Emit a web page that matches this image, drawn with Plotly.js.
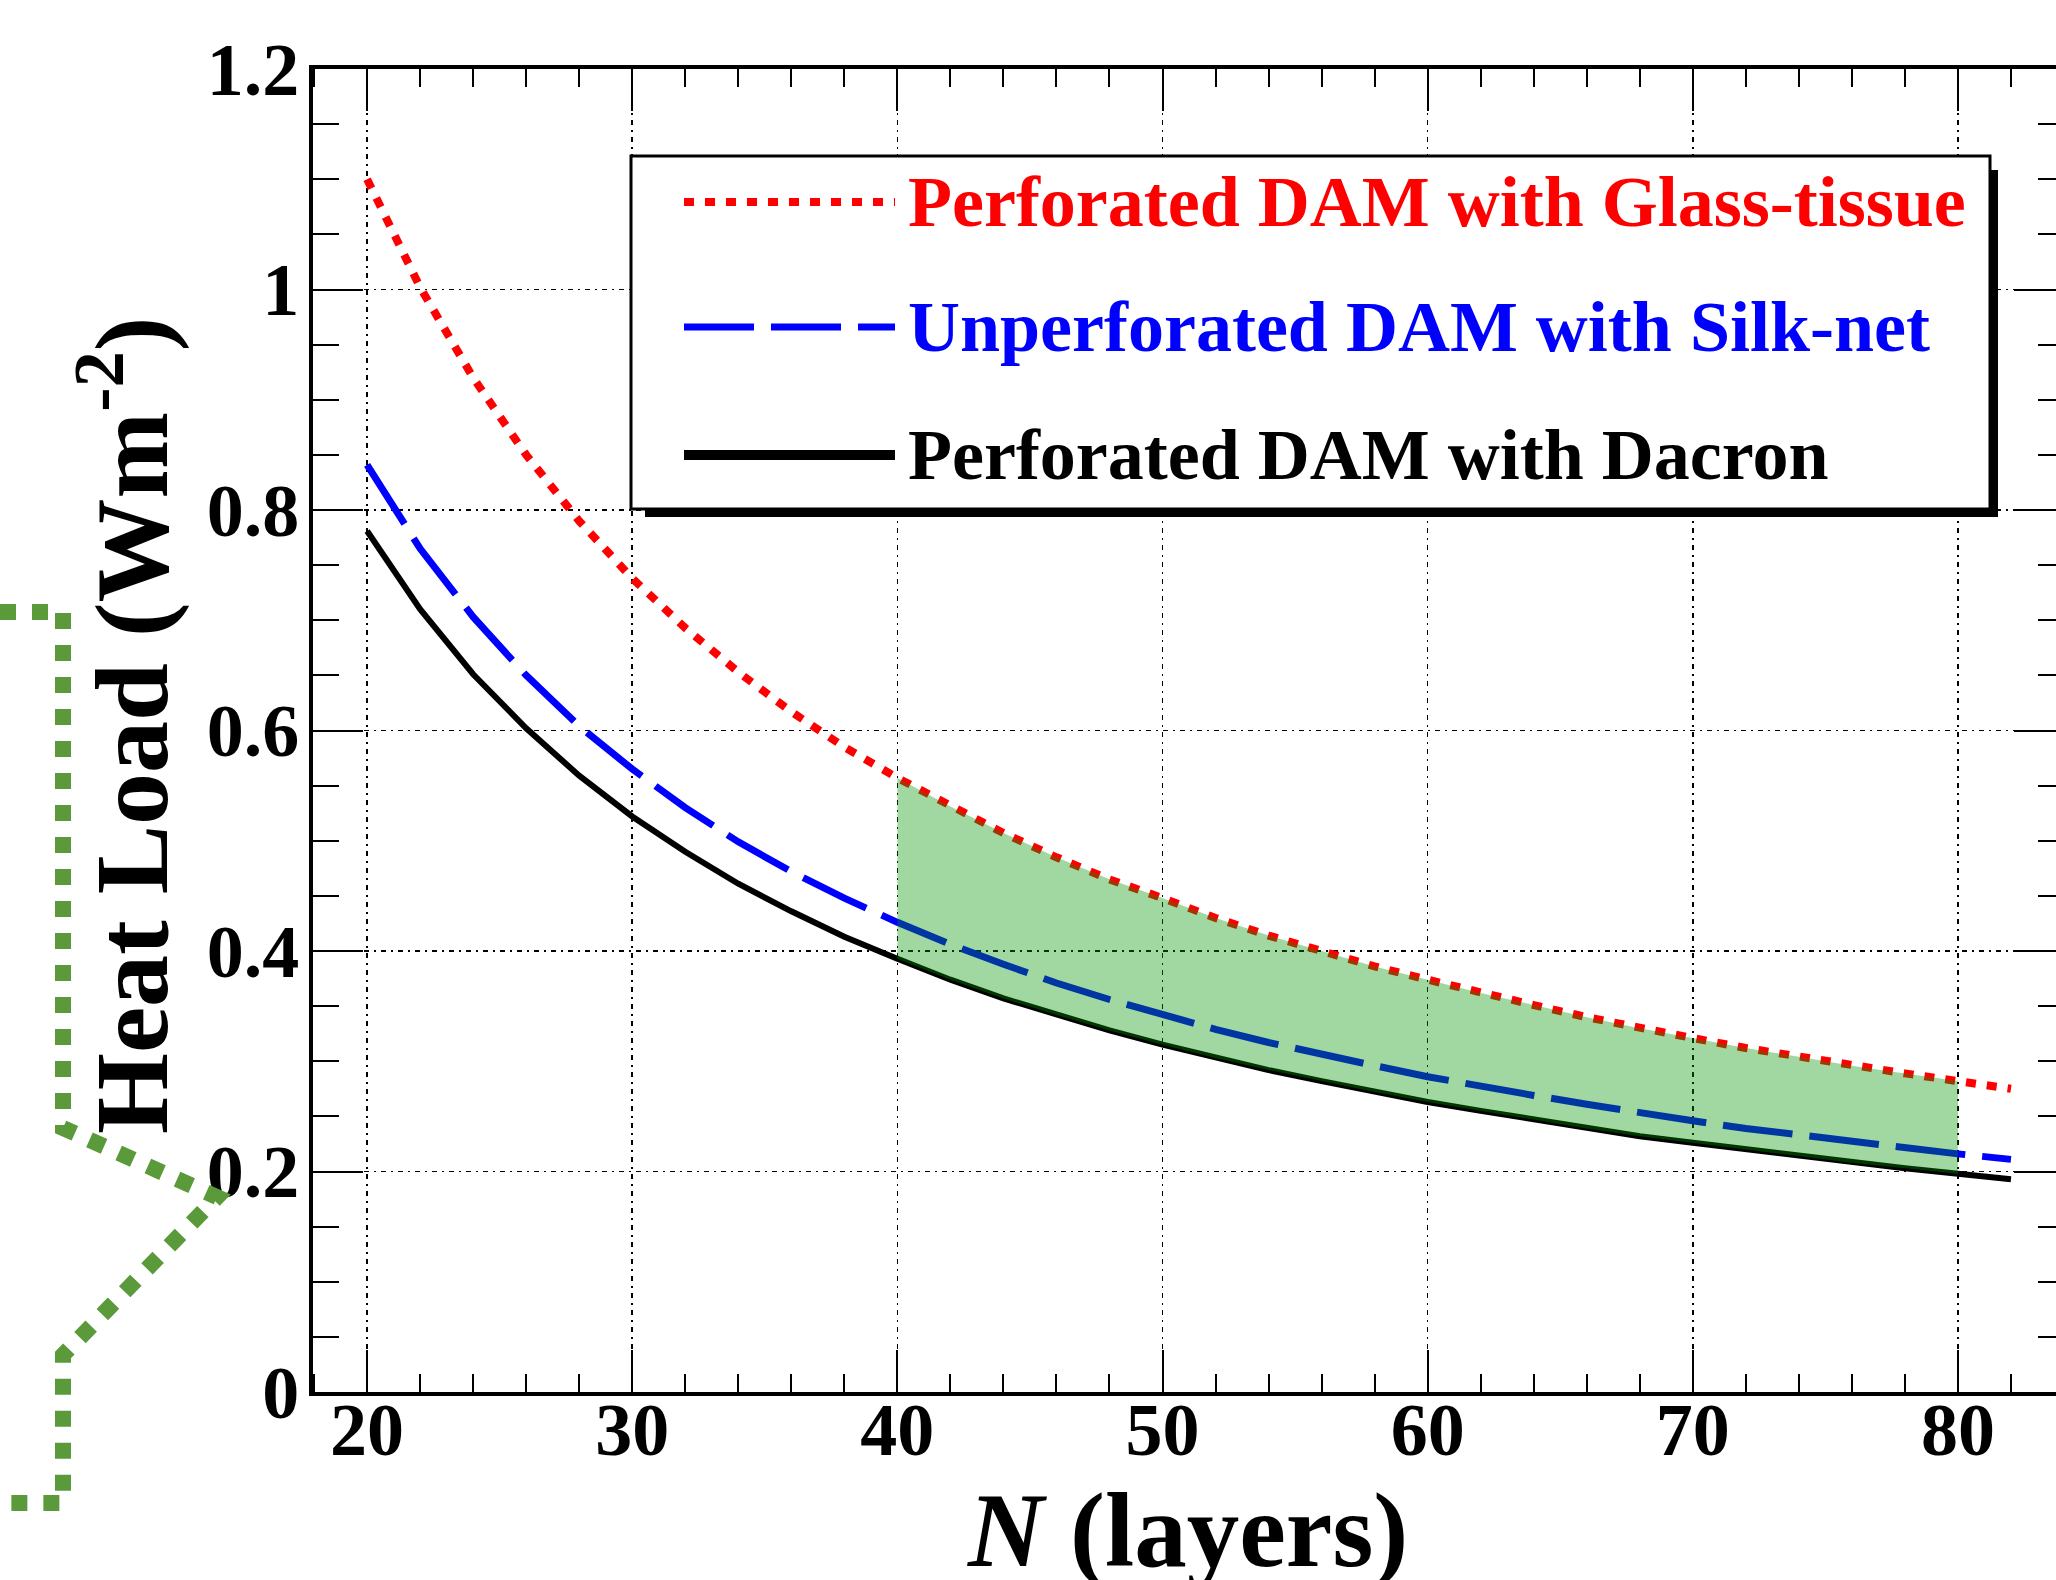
<!DOCTYPE html>
<html>
<head>
<meta charset="utf-8">
<script src="https://cdn.plot.ly/plotly-3.0.1.min.js"></script>
<style>
html,body{margin:0;padding:0;overflow:hidden;background:#ffffff;}
#chart{width:2080px;height:1580px;}
</style>
</head>
<body>
<div id="chart"></div>
<script>
// ---- data ----
const layers = [20,22,24,26,28,30,32,34,36,38,40,42,44,46,48,50,52,54,56,58,60,62,64,66,68,70,72,74,76,78,80,82];
const glassTissue = [1.100,1.002,0.920,0.850,0.790,0.738,0.693,0.653,0.617,0.585,0.557,0.531,0.507,0.485,0.465,0.448,0.430,0.414,0.400,0.386,0.374,0.362,0.351,0.340,0.330,0.321,0.312,0.304,0.296,0.289,0.282,0.275];
const silkNet = [0.841,0.765,0.703,0.650,0.604,0.565,0.530,0.499,0.472,0.448,0.426,0.406,0.388,0.371,0.356,0.342,0.329,0.317,0.306,0.296,0.286,0.277,0.269,0.261,0.253,0.246,0.239,0.233,0.227,0.221,0.216,0.211];
const dacron = [0.781,0.710,0.651,0.602,0.559,0.522,0.490,0.461,0.436,0.413,0.393,0.374,0.357,0.342,0.328,0.315,0.303,0.292,0.282,0.272,0.263,0.255,0.247,0.239,0.232,0.226,0.220,0.214,0.208,0.203,0.198,0.193];
const bandFrom = 40;
const bandTo = 80;
const seriesNames = ["Perforated DAM with Glass-tissue","Unperforated DAM with Silk-net","Perforated DAM with Dacron"];
const xTickVals = [20,30,40,50,60,70,80];
const yTickVals = [0,0.2,0.4,0.6,0.8,1,1.2];
const xTitle = "<i>N</i> (layers)";
const yTitle = "Heat Load (Wm<sup>-2</sup>)";

// ---- layout geometry (pixels) ----
const FIG_W = 2080, FIG_H = 1580;
const M = {l:313, r:16, t:69, b:188};
const PW = FIG_W - M.l - M.r, PH = FIG_H - M.t - M.b;
const px = v => (v - M.l) / PW;          // pixel x -> paper x
const py = v => (FIG_H - M.b - v) / PH;  // pixel y -> paper y

const FONT = "Liberation Serif, 'Times New Roman', Times, serif";
const RED = "#ff0000", BLUE = "#0000ff", BLACK = "#000000";
const RED_DASH = "10px,11px", BLUE_DASH = "70px,17px";
const GRID_DASH = "5px,5px,2px,5px";

// band polygon built from the data arrays
const bandIdx = layers.map((n,i)=>i).filter(i => layers[i] >= bandFrom && layers[i] <= bandTo);
const bandX = bandIdx.map(i=>layers[i]).concat(bandIdx.slice().reverse().map(i=>layers[i]));
const bandY = bandIdx.map(i=>glassTissue[i]).concat(bandIdx.slice().reverse().map(i=>dacron[i]));

const traces = [
  {x: layers, y: glassTissue, name: seriesNames[0], mode: "lines", line: {color: RED, width: 8, dash: RED_DASH}, showlegend: false},
  {x: layers, y: silkNet, name: seriesNames[1], mode: "lines", line: {color: BLUE, width: 7, dash: BLUE_DASH}, showlegend: false},
  {x: layers, y: dacron, name: seriesNames[2], mode: "lines", line: {color: BLACK, width: 6}, showlegend: false},
  {x: bandX, y: bandY, mode: "lines", fill: "toself", fillcolor: "rgba(0,147,0,0.37)", line: {width: 0, color: "rgba(0,0,0,0)"}, hoverinfo: "skip", showlegend: false}
];

// hand-made legend (box, shadow, samples, labels)
const LEG = {x0:631, y0:156, x1:1990, y1:509, sh:8};
const rows = [202, 327, 455];
const sampleX0 = 684, sampleX1 = 895, textX = 906;
const rowStyles = [
  {color: RED, width: 8, dash: RED_DASH},
  {color: BLUE, width: 7, dash: BLUE_DASH},
  {color: BLACK, width: 10, dash: "solid"}
];
const rowColors = [RED, BLUE, BLACK];

const shapes = [
  {type:"rect", xref:"paper", yref:"paper", x0:px(LEG.x0+14), x1:px(LEG.x1+LEG.sh), y0:py(LEG.y1), y1:py(LEG.y1+LEG.sh), fillcolor:BLACK, line:{width:0}, layer:"above"},
  {type:"rect", xref:"paper", yref:"paper", x0:px(LEG.x1), x1:px(LEG.x1+LEG.sh), y0:py(LEG.y0+14), y1:py(LEG.y1+LEG.sh), fillcolor:BLACK, line:{width:0}, layer:"above"},
  {type:"rect", xref:"paper", yref:"paper", x0:px(LEG.x0), x1:px(LEG.x1), y0:py(LEG.y0), y1:py(LEG.y1), fillcolor:"#ffffff", line:{color:BLACK, width:3}, layer:"above"}
];
rows.forEach((ry, i) => {
  shapes.push({type:"line", xref:"paper", yref:"paper", x0:px(sampleX0), x1:px(sampleX1), y0:py(ry), y1:py(ry), line: rowStyles[i], layer:"above"});
});

// green dashed bracket at the left edge
const bracketPts = [[0,612],[63,612],[63,1128],[217,1197],[63,1355],[63,1503],[0,1503]];
const bracketPath = bracketPts.map((p,i)=>(i?"L":"M")+px(p[0]).toFixed(5)+","+py(p[1]).toFixed(5)).join(" ");
shapes.push({type:"path", xref:"paper", yref:"paper", path: bracketPath, line:{color:"#5a9a3a", width:16, dash:"16px,16px"}, layer:"above"});

const annotations = seriesNames.map((t,i)=>({
  text: t, xref:"paper", yref:"paper", x: px(textX), y: py(rows[i]), xanchor:"left", yanchor:"middle",
  showarrow:false, font:{family:FONT, size:72, weight:"bold", color:rowColors[i]}
}));
annotations.push({text: yTitle, xref:"paper", yref:"paper", x: px(124), y: py(726), xanchor:"center", yanchor:"middle", textangle:-90, showarrow:false, font:{family:FONT, size:104, weight:"bold", color:BLACK}});
annotations.push({text: xTitle, xref:"paper", yref:"paper", x: px(1187), y: py(1530), xanchor:"center", yanchor:"middle", showarrow:false, font:{family:FONT, size:105, weight:"bold", color:BLACK}});

const axisCommon = {
  showline:true, linecolor:BLACK, linewidth:4, mirror:"ticks",
  ticks:"inside", tickcolor:BLACK, tickwidth:2,
  showgrid:true, gridcolor:BLACK, gridwidth:1.5, griddash:GRID_DASH,
  zeroline:false, tickfont:{family:FONT, size:74, weight:"bold", color:BLACK}
};

const layout = {
  width: FIG_W, height: FIG_H, margin: M,
  paper_bgcolor:"#ffffff", plot_bgcolor:"#ffffff",
  showlegend:false,
  xaxis: Object.assign({}, axisCommon, {
    range:[17.96, 84.0], tickmode:"array", tickvals:xTickVals, ticklen:42, ticklabelstandoff:-30,
    minor:{dtick:2, tick0:0, ticks:"inside", ticklen:18, tickwidth:2, tickcolor:BLACK, showgrid:false}
  }),
  yaxis: Object.assign({}, axisCommon, {
    range:[0, 1.2], tickmode:"array", tickvals:yTickVals, ticklen:50, ticklabelstandoff:-5,
    minor:{dtick:0.05, tick0:0, ticks:"inside", ticklen:26, tickwidth:2, tickcolor:BLACK, showgrid:false}
  }),
  shapes: shapes,
  annotations: annotations
};

Plotly.newPlot("chart", traces, layout, {displayModeBar:false, staticPlot:true});
</script>
</body>
</html>
